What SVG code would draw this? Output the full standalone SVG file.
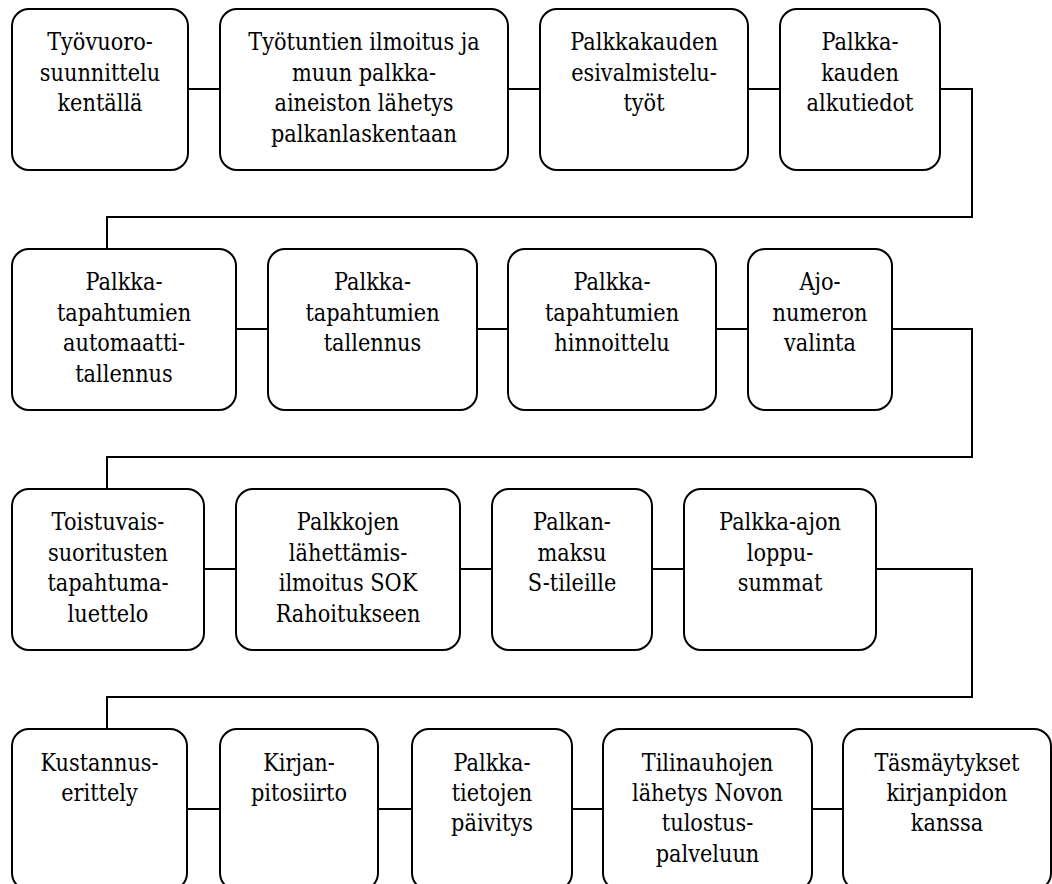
<svg xmlns="http://www.w3.org/2000/svg" width="1052" height="884" viewBox="0 0 1052 884">
  <style>
    .box { fill: #ffffff; stroke: #000000; stroke-width: 2; }
    .link { fill: none; stroke: #000000; stroke-width: 2; }
    .lbl { font-family: 'DejaVu Serif', 'Liberation Serif', serif; font-size: 24px; fill: #000000; text-anchor: middle; }
  </style>
  <rect width="1052" height="884" fill="#ffffff"/>

  <!-- connectors: straight links within a row, loops back to the start of the next row -->
  <g id="connectors">
    <path class="link" d="M188,89 H220 M508,89 H540 M748,89 H780"/>
    <path class="link" d="M940,89 H972 V217 H107 V249"/>
    <path class="link" d="M236,329 H268 M477,329 H508 M716,329 H748"/>
    <path class="link" d="M892,329 H972 V457 H107 V489"/>
    <path class="link" d="M204,569 H236 M460,569 H492 M652,569 H684"/>
    <path class="link" d="M876,569 H972 V697 H107 V729"/>
    <path class="link" d="M187,809 H220 M378,809 H412 M572,809 H603 M812,809 H843"/>
  </g>

  <!-- labels are centred on x=0 and narrowed horizontally, then moved to the box centre -->
  <!-- row 1 -->
  <g id="n1"><rect class="box" x="12" y="9" width="176" height="161" rx="17"/>
    <text class="lbl" transform="translate(100,0) scale(0.87,1)" y="50.5"><tspan x="0">Työvuoro-</tspan><tspan x="0" dy="30.5">suunnittelu</tspan><tspan x="0" dy="30.5">kentällä</tspan></text></g>
  <g id="n2"><rect class="box" x="220" y="9" width="288" height="161" rx="17"/>
    <text class="lbl" transform="translate(364,0) scale(0.87,1)" y="50.5"><tspan x="0">Työtuntien ilmoitus ja</tspan><tspan x="0" dy="30.5">muun palkka-</tspan><tspan x="0" dy="30.5">aineiston lähetys</tspan><tspan x="0" dy="30.5">palkanlaskentaan</tspan></text></g>
  <g id="n3"><rect class="box" x="540" y="9" width="208" height="161" rx="17"/>
    <text class="lbl" transform="translate(644,0) scale(0.87,1)" y="50.5"><tspan x="0">Palkkakauden</tspan><tspan x="0" dy="30.5">esivalmistelu-</tspan><tspan x="0" dy="30.5">työt</tspan></text></g>
  <g id="n4"><rect class="box" x="780" y="9" width="160" height="161" rx="17"/>
    <text class="lbl" transform="translate(860,0) scale(0.87,1)" y="50.5"><tspan x="0">Palkka-</tspan><tspan x="0" dy="30.5">kauden</tspan><tspan x="0" dy="30.5">alkutiedot</tspan></text></g>

  <!-- row 2 -->
  <g id="n5"><rect class="box" x="12" y="249" width="224" height="161" rx="17"/>
    <text class="lbl" transform="translate(124,0) scale(0.87,1)" y="290.5"><tspan x="0">Palkka-</tspan><tspan x="0" dy="30.5">tapahtumien</tspan><tspan x="0" dy="30.5">automaatti-</tspan><tspan x="0" dy="30.5">tallennus</tspan></text></g>
  <g id="n6"><rect class="box" x="268" y="249" width="209" height="161" rx="17"/>
    <text class="lbl" transform="translate(372.5,0) scale(0.87,1)" y="290.5"><tspan x="0">Palkka-</tspan><tspan x="0" dy="30.5">tapahtumien</tspan><tspan x="0" dy="30.5">tallennus</tspan></text></g>
  <g id="n7"><rect class="box" x="508" y="249" width="208" height="161" rx="17"/>
    <text class="lbl" transform="translate(612,0) scale(0.87,1)" y="290.5"><tspan x="0">Palkka-</tspan><tspan x="0" dy="30.5">tapahtumien</tspan><tspan x="0" dy="30.5">hinnoittelu</tspan></text></g>
  <g id="n8"><rect class="box" x="748" y="249" width="144" height="161" rx="17"/>
    <text class="lbl" transform="translate(820,0) scale(0.87,1)" y="290.5"><tspan x="0">Ajo-</tspan><tspan x="0" dy="30.5">numeron</tspan><tspan x="0" dy="30.5">valinta</tspan></text></g>

  <!-- row 3 -->
  <g id="n9"><rect class="box" x="12" y="489" width="192" height="161" rx="17"/>
    <text class="lbl" transform="translate(108,0) scale(0.87,1)" y="530.5"><tspan x="0">Toistuvais-</tspan><tspan x="0" dy="30.5">suoritusten</tspan><tspan x="0" dy="30.5">tapahtuma-</tspan><tspan x="0" dy="30.5">luettelo</tspan></text></g>
  <g id="n10"><rect class="box" x="236" y="489" width="224" height="161" rx="17"/>
    <text class="lbl" transform="translate(348,0) scale(0.87,1)" y="530.5"><tspan x="0">Palkkojen</tspan><tspan x="0" dy="30.5">lähettämis-</tspan><tspan x="0" dy="30.5">ilmoitus SOK</tspan><tspan x="0" dy="30.5">Rahoitukseen</tspan></text></g>
  <g id="n11"><rect class="box" x="492" y="489" width="160" height="161" rx="17"/>
    <text class="lbl" transform="translate(572,0) scale(0.87,1)" y="530.5"><tspan x="0">Palkan-</tspan><tspan x="0" dy="30.5">maksu</tspan><tspan x="0" dy="30.5">S-tileille</tspan></text></g>
  <g id="n12"><rect class="box" x="684" y="489" width="192" height="161" rx="17"/>
    <text class="lbl" transform="translate(780,0) scale(0.87,1)" y="530.5"><tspan x="0">Palkka-ajon</tspan><tspan x="0" dy="30.5">loppu-</tspan><tspan x="0" dy="30.5">summat</tspan></text></g>

  <!-- row 4 -->
  <g id="n13"><rect class="box" x="12" y="729" width="175" height="161" rx="17"/>
    <text class="lbl" transform="translate(99.5,0) scale(0.87,1)" y="770.5"><tspan x="0">Kustannus-</tspan><tspan x="0" dy="30.5">erittely</tspan></text></g>
  <g id="n14"><rect class="box" x="220" y="729" width="158" height="161" rx="17"/>
    <text class="lbl" transform="translate(299,0) scale(0.87,1)" y="770.5"><tspan x="0">Kirjan-</tspan><tspan x="0" dy="30.5">pitosiirto</tspan></text></g>
  <g id="n15"><rect class="box" x="412" y="729" width="160" height="161" rx="17"/>
    <text class="lbl" transform="translate(492,0) scale(0.87,1)" y="770.5"><tspan x="0">Palkka-</tspan><tspan x="0" dy="30.5">tietojen</tspan><tspan x="0" dy="30.5">päivitys</tspan></text></g>
  <g id="n16"><rect class="box" x="603" y="729" width="209" height="161" rx="17"/>
    <text class="lbl" transform="translate(707.5,0) scale(0.87,1)" y="770.5"><tspan x="0">Tilinauhojen</tspan><tspan x="0" dy="30.5">lähetys Novon</tspan><tspan x="0" dy="30.5">tulostus-</tspan><tspan x="0" dy="30.5">palveluun</tspan></text></g>
  <g id="n17"><rect class="box" x="843" y="729" width="208" height="161" rx="17"/>
    <text class="lbl" transform="translate(947,0) scale(0.87,1)" y="770.5"><tspan x="0">Täsmäytykset</tspan><tspan x="0" dy="30.5">kirjanpidon</tspan><tspan x="0" dy="30.5">kanssa</tspan></text></g>
</svg>
